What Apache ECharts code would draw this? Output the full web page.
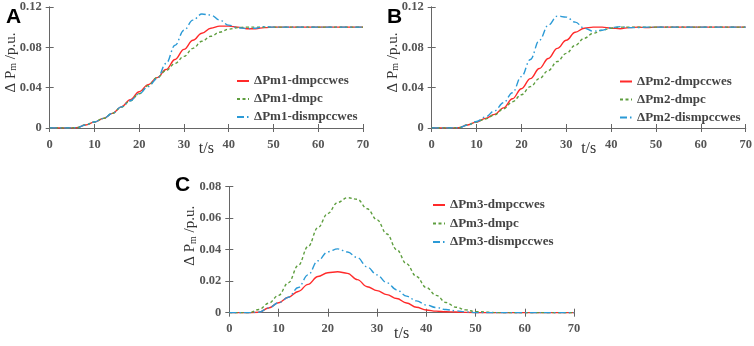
<!DOCTYPE html>
<html><head><meta charset="utf-8">
<script src="https://cdn.jsdelivr.net/npm/echarts@6/dist/echarts.min.js"></script>
<style>html,body{margin:0;padding:0;background:#fff}#c{width:754px;height:346px}</style>
</head><body><div id="c"></div>
<script>
const T = [0,2,4,6,8,10,12,14,16,18,20,22,24,26,28,30,32,34,36,38,40,42,44,46,48,50,55,60,65,70];
const xTicks = [0,10,20,30,40,50,60,70];
// Panel A
const a_dmpccwes  = [0,0,0,0.0003,0.003,0.0058,0.0095,0.0145,0.021,0.028,0.036,0.043,0.050,0.058,0.068,0.078,0.087,0.094,0.099,0.101,0.101,0.100,0.0985,0.0985,0.0995,0.1,0.1,0.1,0.1,0.1];
const a_dmpc      = [0,0,0,0.0003,0.003,0.006,0.0095,0.0145,0.0205,0.027,0.034,0.042,0.050,0.057,0.064,0.071,0.079,0.086,0.091,0.095,0.098,0.0995,0.1,0.1,0.1,0.1,0.1,0.1,0.1,0.1];
const a_dismpccwes= [0,0,0,0.0003,0.003,0.006,0.0095,0.0145,0.021,0.027,0.034,0.041,0.049,0.064,0.082,0.097,0.107,0.113,0.112,0.107,0.102,0.0995,0.0985,0.099,0.1005,0.1,0.1,0.1,0.1,0.1];
// Panel B
const b_dmpccwes  = [0,0,0,0.0003,0.003,0.006,0.0095,0.0135,0.020,0.029,0.039,0.049,0.059,0.069,0.079,0.087,0.095,0.099,0.100,0.100,0.099,0.0985,0.0995,0.1,0.0995,0.1,0.1,0.1,0.1,0.1];
const b_dmpc      = [0,0,0,0.0003,0.003,0.006,0.009,0.013,0.019,0.026,0.033,0.041,0.049,0.057,0.066,0.074,0.082,0.089,0.094,0.097,0.099,0.1,0.1,0.1,0.1,0.1,0.1,0.1,0.1,0.1];
const b_dismpccwes= [0,0,0,0.0003,0.003,0.0065,0.011,0.017,0.025,0.035,0.051,0.068,0.087,0.102,0.111,0.110,0.105,0.099,0.096,0.097,0.0995,0.1005,0.0995,0.0995,0.1,0.1,0.1,0.1,0.1,0.1];
// Panel C
const c_dmpccwes  = [0,0,0,0.0003,0.003,0.0063,0.0098,0.0135,0.018,0.023,0.0254,0.026,0.025,0.021,0.0165,0.014,0.0115,0.009,0.0062,0.0035,0.0017,0.001,0.0006,0.0004,0.0002,0,0,0,0,0];
const c_dmpc      = [0,0,0,0.002,0.006,0.011,0.019,0.030,0.042,0.054,0.063,0.070,0.073,0.072,0.066,0.059,0.050,0.040,0.031,0.023,0.016,0.011,0.0065,0.0035,0.0018,0.0007,0,0,0,0];
const c_dismpccwes= [0,0,0,0.0003,0.003,0.0063,0.0098,0.016,0.024,0.033,0.0387,0.0405,0.0385,0.035,0.029,0.024,0.019,0.0145,0.0105,0.0075,0.0049,0.0033,0.002,0.0012,0.0005,0,0,0,0,0];

const namesA = ['ΔPm1-dmpccwes','ΔPm1-dmpc','ΔPm1-dismpccwes'];
const namesB = ['ΔPm2-dmpccwes','ΔPm2-dmpc','ΔPm2-dismpccwes'];
const namesC = ['ΔPm3-dmpccwes','ΔPm3-dmpc','ΔPm3-dismpccwes'];
const panelLetters = ['A','B','C'];

const RED='#ff2a2a', GREEN='#5e9e3f', BLUE='#2b9ad6';
const SERIF='"Liberation Serif","Times New Roman",serif';
const LBL = {color:'#555', fontFamily:SERIF, fontWeight:'bold', fontSize:12.5};

const chart = echarts.init(document.getElementById('c'));
const grids = [
  {left:49.7, top:7, width:313.3, height:121},
  {left:431.7, top:7, width:314, height:121},
  {left:229.3, top:186.7, width:344.7, height:126}
];
grids.forEach(g=>{g.outerBoundsMode='none'; g.containLabel=false;});
const yMax=[0.12,0.12,0.08], yInt=[0.04,0.04,0.02];
const xAxes=[], yAxes=[];
grids.forEach((g,i)=>{
  xAxes.push({type:'value', gridIndex:i, min:0, max:70, interval:10,
    axisLine:{show:true,lineStyle:{color:'#666'}}, axisTick:{inside:true,length:4,lineStyle:{color:'#666'}},
    splitLine:{show:false}, axisLabel:Object.assign({margin:10},LBL),
    name:'t/s', nameLocation:'middle', nameGap:13, nameMoveOverlap:false,
    nameTextStyle:{fontFamily:SERIF, fontSize:16, color:'#333'}});
  xAxes.push({type:'value', gridIndex:i, position:'top', min:0, max:70, interval:10,
    axisLine:{show:true,lineStyle:{color:'#666'}}, axisTick:{inside:true,length:4,lineStyle:{color:'#666'}},
    splitLine:{show:false}, axisLabel:{show:false}});
  yAxes.push({type:'value', gridIndex:i, min:0, max:yMax[i], interval:yInt[i],
    axisLine:{show:true,lineStyle:{color:'#666'}}, axisTick:{inside:true,length:4,lineStyle:{color:'#666'}},
    splitLine:{show:false},
    axisLabel:Object.assign({margin:8, formatter:v=> v===0?'0':v.toFixed(2)},LBL),
    name:'{a|Δ P}{s|m}{a| /p.u.}', nameLocation:'middle', nameGap:31, nameRotate:90, nameMoveOverlap:false,
    nameTextStyle:{padding:[0,0,0,i===2?28:10],
      rich:{a:{fontFamily:SERIF,fontSize:15,color:'#333'},s:{fontFamily:SERIF,fontSize:10,color:'#333',padding:[6,0,0,0]}}}});
  yAxes.push({type:'value', gridIndex:i, position:'right', min:0, max:yMax[i], interval:yInt[i],
    axisLine:{show:true,lineStyle:{color:'#666'}}, axisTick:{inside:true,length:4,lineStyle:{color:'#666'}},
    splitLine:{show:false}, axisLabel:{show:false}});
});
function mk(name, vals, gi, color, type){
  return {name:name, type:'line', xAxisIndex:gi*2, yAxisIndex:gi*2, data:T.map((t,k)=>[t,vals[k]]),
    showSymbol:false, smooth:0.4, smoothMonotone:'x',
    lineStyle:{color:color,width:1.4,type:type}, itemStyle:{color:color}};
}
const dotdash=[7,3,1.5,3];
const series=[
  mk(namesA[0],a_dmpccwes,0,RED,'solid'), mk(namesA[1],a_dmpc,0,GREEN,[3,2.5]), mk(namesA[2],a_dismpccwes,0,BLUE,dotdash),
  mk(namesB[0],b_dmpccwes,1,RED,'solid'), mk(namesB[1],b_dmpc,1,GREEN,[3,2.5]), mk(namesB[2],b_dismpccwes,1,BLUE,dotdash),
  mk(namesC[0],c_dmpccwes,2,RED,'solid'), mk(namesC[1],c_dmpc,2,GREEN,[3,2.5]), mk(namesC[2],c_dismpccwes,2,BLUE,dotdash)
];
const legTxt={fontFamily:SERIF,fontWeight:'bold',fontSize:13,color:'#444'};
const legends=[
  {data:namesA, left:236, top:74.5, orient:'vertical', itemWidth:12, itemHeight:8, itemGap:5, textStyle:legTxt},
  {data:namesB, left:619, top:75, orient:'vertical', itemWidth:12, itemHeight:8, itemGap:5, textStyle:legTxt},
  {data:namesC, left:432, top:198.5, orient:'vertical', itemWidth:12, itemHeight:8, itemGap:5.5, textStyle:legTxt}
];
legends.forEach(l=>{l.itemStyle={opacity:0}; l.selectedMode=false; l.padding=0;});
const titleStyle={fontFamily:'"Liberation Sans",Arial,sans-serif',fontWeight:'bold',fontSize:21,color:'#000'};
chart.setOption({
  animation:false,
  title:[
    {text:panelLetters[0], left:1, top:2, textStyle:titleStyle},
    {text:panelLetters[1], left:382, top:2, textStyle:titleStyle},
    {text:panelLetters[2], left:170, top:170, textStyle:titleStyle}
  ],
  grid:grids, xAxis:xAxes, yAxis:yAxes, legend:legends, series:series
});
</script></body></html>
